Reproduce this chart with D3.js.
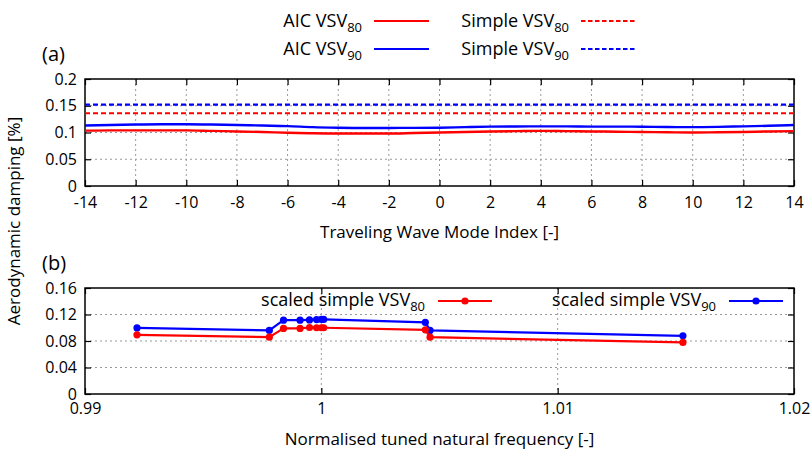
<!DOCTYPE html>
<html>
<head>
<meta charset="utf-8">
<script src="https://cdn.jsdelivr.net/npm/d3@7"></script>
<style>
body { margin: 0; background: #fff; }
text { font-family: "Open Sans", sans-serif; fill: #000; }
</style>
</head>
<body>
<div id="chart-area"></div>
<script>
// panel (a) data
var modeIndex = d3.range(-14, 15);
var aic80 = [0.1035, 0.104, 0.104, 0.104, 0.104, 0.103, 0.102, 0.101, 0.0995, 0.0985, 0.098, 0.098, 0.098, 0.099, 0.100,
             0.101, 0.102, 0.1025, 0.103, 0.1025, 0.102, 0.1015, 0.101, 0.1005, 0.100, 0.1005, 0.101, 0.102, 0.1025];
var aic90 = [0.113, 0.114, 0.115, 0.1155, 0.1155, 0.115, 0.114, 0.113, 0.112, 0.110, 0.109, 0.1085, 0.1085, 0.1087, 0.109,
             0.110, 0.111, 0.1113, 0.1115, 0.1115, 0.111, 0.111, 0.1108, 0.1103, 0.110, 0.1105, 0.1115, 0.1125, 0.114];
var simple80 = 0.136;
var simple90 = 0.152;

// panel (b) data
var tunedFreq = [0.9922, 0.9978, 0.9984, 0.9991, 0.9995, 0.9998, 1.0000, 1.0001, 1.0044, 1.0046, 1.0153];
var scaled80 = [0.0893, 0.0858, 0.099, 0.099, 0.1004, 0.100, 0.100, 0.100, 0.0969, 0.0858, 0.0778];
var scaled90 = [0.0998, 0.0959, 0.1114, 0.1114, 0.1118, 0.1123, 0.1125, 0.1125, 0.108, 0.096, 0.0878];

var ticksA_x = d3.range(-14, 15, 2);
var ticksA_y = [0, 0.05, 0.1, 0.15, 0.2];
var ticksB_x = [0.99, 1, 1.01, 1.02];
var ticksB_y = [0, 0.04, 0.08, 0.12, 0.16];

var width = 812, height = 449;
var left = 85, right = 794;
var RED = "#ff0000", BLUE = "#0000ff";

var svg = d3.select("#chart-area").append("svg")
    .attr("width", width)
    .attr("height", height);

function panel(cfg) {
    var g = svg.append("g");
    var x = d3.scaleLinear().domain(cfg.xdom).range([left, right]);
    var y = d3.scaleLinear().domain(cfg.ydom).range([cfg.bottom, cfg.top]);

    // grid
    g.selectAll(".vgrid").data(cfg.xgrid).enter().append("line")
        .attr("x1", d => x(d)).attr("x2", d => x(d))
        .attr("y1", cfg.top).attr("y2", cfg.bottom)
        .attr("stroke", "#999").attr("stroke-width", 1).attr("stroke-dasharray", "2,3");
    g.selectAll(".hgrid").data(cfg.ygrid).enter().append("line")
        .attr("x1", left).attr("x2", right)
        .attr("y1", d => y(d)).attr("y2", d => y(d))
        .attr("stroke", "#999").attr("stroke-width", 1).attr("stroke-dasharray", "2,3");

    // axes, gnuplot style: inward ticks mirrored
    var tk = 6;
    g.append("g").attr("transform", "translate(0," + cfg.bottom + ")")
        .call(d3.axisBottom(x).tickValues(cfg.xticks).tickSizeInner(-tk).tickSizeOuter(0).tickPadding(cfg.xpad).tickFormat(cfg.xfmt))
        .call(a => a.select(".domain").remove());
    g.append("g").attr("transform", "translate(0," + cfg.top + ")")
        .call(d3.axisTop(x).tickValues(cfg.xticks).tickSizeInner(-tk).tickSizeOuter(0).tickFormat(""))
        .call(a => a.select(".domain").remove());
    g.append("g").attr("transform", "translate(" + left + ",0)")
        .call(d3.axisLeft(y).tickValues(cfg.yticks).tickSizeInner(-tk).tickSizeOuter(0).tickPadding(8).tickFormat(cfg.yfmt))
        .call(a => a.select(".domain").remove());
    g.append("g").attr("transform", "translate(" + right + ",0)")
        .call(d3.axisRight(y).tickValues(cfg.yticks).tickSizeInner(-tk).tickSizeOuter(0).tickFormat(""))
        .call(a => a.select(".domain").remove());
    g.selectAll(".tick line").attr("stroke", "#000").attr("stroke-width", 1.2);
    g.selectAll(".tick text").attr("font-size", "16px").attr("font-family", "'Open Sans', sans-serif");

    g.append("rect")
        .attr("x", left).attr("y", cfg.top)
        .attr("width", right - left).attr("height", cfg.bottom - cfg.top)
        .attr("fill", "none").attr("stroke", "#000").attr("stroke-width", 1.5);

    g.append("text")
        .attr("x", (left + right) / 2).attr("y", cfg.bottom + cfg.xlabelOff)
        .attr("text-anchor", "middle").attr("font-size", "17px")
        .text(cfg.xlabel);

    g.append("text")
        .attr("x", 42).attr("y", cfg.top - 18)
        .attr("font-family", "Liberation Sans, Arial, sans-serif")
        .attr("font-size", "20px")
        .text(cfg.tag);

    return {g: g, x: x, y: y};
}

function subText(sel, main, sub) {
    sel.append("tspan").text(main);
    sel.append("tspan").attr("dy", 5).attr("font-size", "13px").text(sub);
}

// ---- panel (a)
var pa = panel({
    xdom: [-14, 14], ydom: [0, 0.2], top: 79, bottom: 186,
    xticks: ticksA_x, yticks: ticksA_y,
    xgrid: ticksA_x.slice(1, -1), ygrid: [0.05, 0.1, 0.15],
    xfmt: d => d, yfmt: d => d, xpad: 11,
    xlabel: "Traveling Wave Mode Index [-]", xlabelOff: 52, tag: "(a)"
});

var lineA = d3.line().x((d, i) => pa.x(modeIndex[i])).y(d => pa.y(d)).curve(d3.curveMonotoneX);
pa.g.append("line").attr("x1", left).attr("x2", right)
    .attr("y1", pa.y(simple90)).attr("y2", pa.y(simple90))
    .attr("stroke", BLUE).attr("stroke-width", 2.2).attr("stroke-dasharray", "5,3");
pa.g.append("line").attr("x1", left).attr("x2", right)
    .attr("y1", pa.y(simple80)).attr("y2", pa.y(simple80))
    .attr("stroke", RED).attr("stroke-width", 2.2).attr("stroke-dasharray", "5,3");
pa.g.append("path").datum(aic90).attr("d", lineA)
    .attr("fill", "none").attr("stroke", BLUE).attr("stroke-width", 2.4);
pa.g.append("path").datum(aic80).attr("d", lineA)
    .attr("fill", "none").attr("stroke", RED).attr("stroke-width", 2.4);

// top legend
var legendA = [
    {main: "AIC VSV", sub: "80", color: RED, dash: null, tx: 362, ty: 27},
    {main: "Simple VSV", sub: "80", color: RED, dash: "4.5,2.5", tx: 569, ty: 27},
    {main: "AIC VSV", sub: "90", color: BLUE, dash: null, tx: 362, ty: 55},
    {main: "Simple VSV", sub: "90", color: BLUE, dash: "4.5,2.5", tx: 569, ty: 55}
];
legendA.forEach(function (l) {
    var t = svg.append("text").attr("x", l.tx).attr("y", l.ty)
        .attr("text-anchor", "end").attr("font-size", "18px");
    subText(t, l.main, l.sub);
    svg.append("line").attr("x1", l.tx + 12).attr("x2", l.tx + 67)
        .attr("y1", l.ty - 6).attr("y2", l.ty - 6)
        .attr("stroke", l.color).attr("stroke-width", 2.2)
        .attr("stroke-dasharray", l.dash);
});

// ---- panel (b)
var pb = panel({
    xdom: [0.99, 1.02], ydom: [0, 0.16], top: 288, bottom: 394,
    xticks: ticksB_x, yticks: ticksB_y,
    xgrid: [1, 1.01], ygrid: [0.04, 0.08, 0.12],
    xfmt: d => d, yfmt: d => d, xpad: 9,
    xlabel: "Normalised tuned natural frequency [-]", xlabelOff: 51, tag: "(b)"
});

var lineB = d3.line().x((d, i) => pb.x(tunedFreq[i])).y(d => pb.y(d));
[[scaled90, BLUE], [scaled80, RED]].forEach(function (s) {
    pb.g.append("path").datum(s[0]).attr("d", lineB)
        .attr("fill", "none").attr("stroke", s[1]).attr("stroke-width", 2.2);
    pb.g.selectAll(null).data(s[0]).enter().append("circle")
        .attr("cx", (d, i) => pb.x(tunedFreq[i])).attr("cy", d => pb.y(d))
        .attr("r", 3.6).attr("fill", s[1]);
});

var legendB = [
    {main: "scaled simple VSV", sub: "80", color: RED, tx: 425, ty: 306},
    {main: "scaled simple VSV", sub: "90", color: BLUE, tx: 716, ty: 306}
];
legendB.forEach(function (l) {
    var t = pb.g.append("text").attr("x", l.tx).attr("y", l.ty)
        .attr("text-anchor", "end").attr("font-size", "18px");
    subText(t, l.main, l.sub);
    pb.g.append("line").attr("x1", l.tx + 13).attr("x2", l.tx + 67)
        .attr("y1", l.ty - 5).attr("y2", l.ty - 5)
        .attr("stroke", l.color).attr("stroke-width", 2.2);
    pb.g.append("circle").attr("cx", l.tx + 40).attr("cy", l.ty - 5)
        .attr("r", 3.6).attr("fill", l.color);
});

// shared y label
svg.append("text")
    .attr("transform", "translate(20,221) rotate(-90)")
    .attr("text-anchor", "middle").attr("font-size", "17px")
    .attr("font-family", "Liberation Sans, Arial, sans-serif")
    .text("Aerodynamic damping [%]");
</script>
</body>
</html>
